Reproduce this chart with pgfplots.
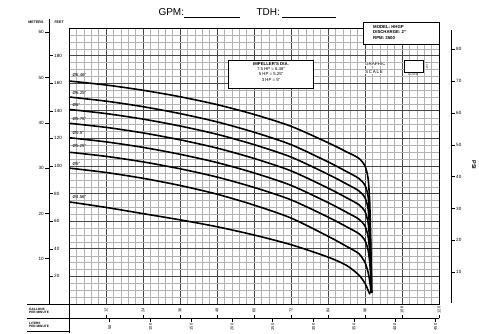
\documentclass[border=0pt]{standalone}
\usepackage{pgfplots}
\pgfplotsset{compat=1.18}
\usepackage{fontspec}
\setmainfont{Liberation Sans}
\begin{document}
\begin{tikzpicture}
\useasboundingbox (0pt,0pt) rectangle (479pt,-333pt);
\begin{axis}[at={(69pt,-304pt)}, anchor=south west, scale only axis,
  width=370pt, height=276pt, xmin=0, xmax=120, ymin=0, ymax=200,
  xtick={0,12,...,120}, ytick={0,20,...,200},
  minor x tick num=4, minor y tick num=3,
  grid=both,
  major grid style={black!72, line width=0.8pt},
  minor grid style={black!30, line width=0.3pt},
  xticklabels={}, yticklabels={},
  major tick length=0pt, minor tick length=0pt,
  axis line style={black, line width=1pt},
  pc/.style={black, line width=1.6pt, smooth, tension=0.45, mark=none},
  clip=false]
% 6.46
\addplot[pc] coordinates {(0,161.6) (12,158.7) (24,154.9) (36,150.2) (48,144.5) (60,137.4) (72,128.8) (84,116.9) (90,110.3) (94,105.6) (96,100) (97,91) (97.5,75) (97.8,52) (98,28) (98.1,8)};
% 6.25
\addplot[pc] coordinates {(0,150) (12,147) (24,143) (36,138) (48,132) (60,124.5) (72,115.5) (84,103) (90,96) (94,91) (96,86) (97,78) (97.5,62) (97.8,42) (98,24) (98.1,8)};
% 6
\addplot[pc] coordinates {(0,141) (12,138) (24,134) (36,129) (48,123) (60,115.5) (72,106.5) (84,94) (90,87) (94,82) (96,77) (97,69) (97.5,55) (97.8,38) (98,22) (98.1,8)};
% 5.75
\addplot[pc] coordinates {(0,131) (12,128) (24,124) (36,119) (48,113) (60,105.5) (72,96.5) (84,84) (90,77) (94,72) (96,67) (97,59) (97.5,47) (97.8,33) (98,20) (98.1,8)};
% 5.5
\addplot[pc] coordinates {(0,120.5) (12,117.5) (24,113.5) (36,108.5) (48,102.5) (60,95) (72,86) (84,73.5) (90,66.5) (94,61.5) (96,56.5) (97,49) (97.5,39) (97.8,28) (98,18) (98.1,8)};
% 5.25
\addplot[pc] coordinates {(0,110) (12,107) (24,103) (36,98) (48,92) (60,84.5) (72,75.5) (84,63) (90,56) (94,51) (96,46) (97,39) (97.5,31) (97.8,22) (98,15) (98.1,8)};
% 5
\addplot[pc] coordinates {(0,98.5) (12,95.3) (24,91.1) (36,85.9) (48,79.6) (60,71.7) (72,62.3) (84,49.1) (90,41.8) (94,36.5) (96,30) (97,23) (97.5,17) (97.8,12) (98,8)};
% 4.56
\addplot[pc] coordinates {(0,74) (12,70) (24,65.5) (36,61) (48,56) (60,50) (72,43) (84,34) (90,28) (94,21) (96,15) (97,10) (97.6,7)};
\end{axis}
\begin{scope}[x=1pt,y=-1pt]
% title
\node[anchor=west, font=\fontsize{10}{10}\selectfont] at (155,12) {GPM:};
\draw[line width=0.5pt] (184,17) -- (240,17);
\node[anchor=west, font=\fontsize{10}{10}\selectfont] at (253,12) {TDH:};
\draw[line width=0.5pt] (282,17) -- (336,17);
% left axis
\draw[line width=0.9pt] (49,24) -- (49,305);
\node[anchor=east, font=\fontsize{3.6}{4}\selectfont\bfseries] at (47,22) {METERS};
\node[anchor=west, font=\fontsize{3.6}{4}\selectfont\bfseries] at (51,22) {FEET};
\draw[line width=0.5pt] (49.5,19) -- (49.5,25);
\foreach \f in {20,40,...,180} {
  \draw[line width=0.5pt] (49,{304-1.38*\f}) -- (53,{304-1.38*\f});
  \node[anchor=west, font=\fontsize{4.6}{5}\selectfont, inner sep=1pt] at (53,{304-1.38*\f}) {\f};
}
\foreach \m in {10,20,...,60} {
  \draw[line width=0.5pt] (45,{304-1.38*3.2808*\m}) -- (49,{304-1.38*3.2808*\m});
  \node[anchor=east, font=\fontsize{4.6}{5}\selectfont, inner sep=1pt] at (45,{304-1.38*3.2808*\m}) {\m};
}
% right axis (PSI)
\draw[line width=0.9pt] (451,30) -- (451,303);
\foreach \p in {10,20,...,80} {
  \draw[line width=0.5pt] (451,{304-1.38*2.3067*\p}) -- (455,{304-1.38*2.3067*\p});
  \node[anchor=west, font=\fontsize{4.6}{5}\selectfont, inner sep=1pt] at (455,{304-1.38*2.3067*\p}) {\p};
}
\node[rotate=-90, font=\fontsize{5.5}{6}\selectfont\bfseries] at (474,165) {PSI};
% bottom scales
\draw[line width=0.9pt] (69,304) -- (69,333);
\draw[line width=0.5pt] (27,304) -- (69,304);
\draw[line width=0.6pt] (27,318) -- (439,318);
\draw[line width=0.5pt] (27,331) -- (69,331);
\foreach \g [count=\k] in {12,24,36,48,60,72,84,96,108,120} {
  \draw[line width=0.6pt] ({69+37*\k},318) -- ({69+37*\k},314.5);
  \node[rotate=90, font=\fontsize{4}{4}\selectfont, inner sep=0.5pt] at ({69+37*\k},310) {\g};
}
\foreach \l [count=\k] in {50,100,150,200,250,300,350,400,450} {
  \draw[line width=0.6pt] ({69+40.73*\k},318) -- ({69+40.73*\k},321.5);
  \node[rotate=90, font=\fontsize{4}{4}\selectfont, inner sep=0.5pt] at ({69+40.73*\k},327) {\l};
}
\node[anchor=west, align=left, font=\fontsize{3.2}{3.4}\selectfont\bfseries, inner sep=0pt] at (29,311) {GALLONS\\PER MINUTE};
\node[anchor=west, align=left, font=\fontsize{3.2}{3.4}\selectfont\bfseries, inner sep=0pt] at (29,325) {LITERS\\PER MINUTE};
% curve labels
\foreach \t/\y in {6.46/75, 6.25/93, 6/104.5, 5.75/119, 5.5/133, 5.25/146, 5/164, 4.56/197} {
  \node[anchor=west, font=\fontsize{4.4}{5}\selectfont, inner sep=0.5pt] at (72,\y) {Ø\t"};
}
% model box
\node[draw, line width=0.8pt, fill=white, anchor=north west, minimum width=76pt, minimum height=22pt, inner sep=0pt] at (363,22) {};
\node[anchor=north west, align=left, font=\fontsize{4.3}{5.2}\selectfont\bfseries, inner sep=0pt] at (373,25.5) {MODEL: HHGP\\DISCHARGE: 2"\\RPM: 3500};
% impeller box
\node[draw, line width=0.8pt, fill=white, anchor=north west, minimum width=85pt, minimum height=28pt, inner sep=0pt] at (228,60) {};
\node[anchor=north, align=center, font=\fontsize{4.3}{5.3}\selectfont, inner sep=0pt] at (271,62) {\textbf{IMPELLER'S DIA.}\\7.5 HP = 6.46"\\5 HP = 5.25"\\3 HP = 5"};
% graphic scale
\node[anchor=west, font=\fontsize{4.5}{5}\selectfont, inner sep=0pt, fill=white] at (365,64) {GRAPHIC};
\node[anchor=west, font=\fontsize{4.5}{5}\selectfont, inner sep=0pt, fill=white] at (365,72) {S\,C\,A\,L\,E};
\draw[line width=0.6pt, fill=white] (404,60) rectangle (423,72);
\node[font=\fontsize{2.5}{3}\selectfont, inner sep=0pt] at (413,75) {1.0 GPM};
\node[rotate=-90, font=\fontsize{2.5}{3}\selectfont, inner sep=0pt] at (427,66) {10 FT};
\end{scope}
\end{tikzpicture}
\end{document}
